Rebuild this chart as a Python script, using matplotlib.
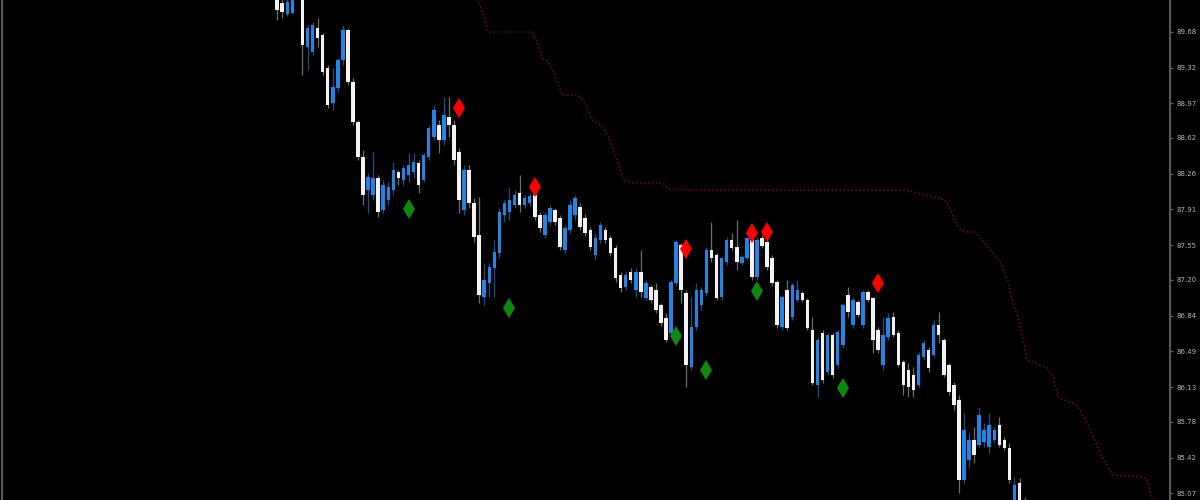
import numpy as np
import matplotlib.pyplot as plt

# bar data (one entry per bar, oldest first)
opens = [90.00, 89.97, 89.86, 89.87, 90.25, 90.08, 89.53, 89.48, 89.72, 89.65,
         89.32, 88.97, 89.12, 89.40, 89.70, 89.18, 88.78, 88.43, 88.10, 88.05,
         88.22, 87.90, 88.00, 88.10, 88.28, 88.20, 88.25, 88.28, 88.37, 88.20,
         88.43, 88.63, 88.75, 88.60, 88.83, 88.75, 88.48, 87.90, 88.30, 87.97,
         87.65, 87.03, 87.17, 87.32, 87.47, 87.85, 87.88, 87.95, 88.07, 87.95,
         87.97, 88.05, 87.85, 87.65, 87.78, 87.90, 87.82, 87.50, 87.70, 87.85,
         87.93, 87.82, 87.70, 87.45, 87.60, 87.70, 87.62, 87.52, 87.25, 87.13,
         87.28, 87.10, 87.28, 87.02, 87.13, 87.10, 86.95, 86.82, 86.67, 87.17,
         87.55, 87.07, 86.33, 86.73, 86.95, 87.07, 87.50, 87.45, 87.03, 87.38,
         87.60, 87.53, 87.37, 87.42, 87.60, 87.23, 87.62, 87.58, 87.42, 87.18,
         86.73, 87.10, 86.83, 87.00, 87.07, 87.00, 86.70, 86.15, 86.67, 86.28,
         86.65, 86.35, 86.55, 87.05, 86.75, 86.98, 86.75, 87.08, 87.02, 86.70,
         86.35, 86.63, 86.83, 86.67, 86.38, 86.30, 86.25, 86.15, 86.43, 86.50,
         86.45, 86.75, 86.60, 86.35, 86.15, 86.00, 85.20, 85.40, 85.60, 85.55,
         85.58, 85.53, 85.60, 85.75, 85.60, 85.52, 85.00, 85.17, 85.00]
highs = [90.05, 90.02, 90.05, 90.08, 90.30, 90.12, 89.75, 89.78, 89.82, 89.67,
         89.35, 89.32, 89.42, 89.75, 89.72, 89.22, 88.80, 88.50, 88.27, 88.48,
         88.25, 88.20, 88.18, 88.38, 88.30, 88.35, 88.47, 88.47, 88.40, 88.47,
         88.75, 88.95, 88.80, 89.03, 89.03, 88.80, 88.52, 88.35, 88.35, 88.02,
         88.03, 87.37, 87.37, 87.60, 87.92, 88.00, 88.13, 88.10, 88.25, 88.05,
         88.07, 88.08, 87.88, 87.88, 87.95, 87.92, 87.85, 87.75, 88.00, 88.05,
         87.97, 87.86, 87.73, 87.67, 87.78, 87.73, 87.65, 87.55, 87.28, 87.28,
         87.32, 87.32, 87.50, 87.20, 87.15, 87.17, 86.97, 86.87, 87.20, 87.60,
         87.57, 87.10, 87.03, 87.17, 87.13, 87.53, 87.78, 87.47, 87.43, 87.63,
         87.67, 87.80, 87.45, 87.63, 87.63, 87.63, 87.65, 87.60, 87.45, 87.20,
         87.05, 87.20, 87.17, 87.20, 87.09, 87.02, 86.83, 86.63, 86.70, 86.67,
         86.67, 86.70, 86.97, 87.13, 87.03, 87.00, 87.10, 87.10, 87.03, 86.73,
         86.83, 86.87, 86.88, 86.70, 86.40, 86.37, 86.33, 86.48, 86.60, 86.53,
         86.80, 86.88, 86.62, 86.37, 86.18, 86.05, 85.87, 85.67, 85.73, 85.93,
         85.77, 85.87, 85.73, 85.83, 85.63, 85.57, 85.23, 85.22, 85.03]
lows = [89.80, 89.82, 89.84, 89.86, 90.04, 89.25, 89.30, 89.45, 89.53, 89.25,
        88.92, 88.90, 89.08, 89.35, 89.15, 88.75, 88.40, 87.95, 87.87, 88.00,
        87.83, 87.87, 87.95, 88.05, 88.15, 88.15, 88.18, 88.22, 88.07, 88.18,
        88.40, 88.60, 88.47, 88.55, 88.63, 88.35, 87.87, 87.85, 87.92, 87.58,
        86.97, 86.95, 87.03, 87.03, 87.42, 87.78, 87.80, 87.92, 87.88, 87.92,
        87.94, 87.80, 87.68, 87.62, 87.75, 87.75, 87.50, 87.47, 87.67, 87.80,
        87.70, 87.64, 87.50, 87.40, 87.57, 87.57, 87.44, 87.18, 87.08, 87.10,
        87.17, 87.03, 87.03, 87.00, 86.97, 86.87, 86.74, 86.58, 86.64, 87.14,
        86.97, 86.13, 86.30, 86.70, 86.90, 87.04, 87.38, 87.00, 87.00, 87.35,
        87.50, 87.30, 87.35, 87.40, 87.20, 87.20, 87.52, 87.30, 87.14, 86.72,
        86.70, 86.70, 86.80, 86.98, 86.98, 86.70, 86.15, 86.03, 86.17, 86.25,
        86.22, 86.32, 86.52, 86.83, 86.72, 86.83, 86.72, 86.98, 86.47, 86.47,
        86.30, 86.60, 86.63, 86.33, 86.05, 86.03, 86.03, 86.13, 86.40, 86.28,
        86.43, 86.57, 86.23, 86.05, 85.90, 85.07, 85.17, 85.33, 85.37, 85.53,
        85.53, 85.47, 85.57, 85.53, 85.50, 85.17, 84.90, 84.85, 84.75]
closes = [89.90, 89.88, 89.98, 90.00, 90.08, 89.55, 89.72, 89.75, 89.62, 89.28,
          88.95, 89.13, 89.40, 89.70, 89.18, 88.78, 88.43, 88.05, 88.23, 88.22,
          87.88, 88.15, 88.13, 88.30, 88.22, 88.32, 88.35, 88.38, 88.15, 88.45,
          88.72, 88.90, 88.60, 88.85, 88.75, 88.40, 88.00, 88.30, 87.97, 87.63,
          87.05, 87.20, 87.33, 87.48, 87.88, 87.97, 88.00, 88.05, 87.95, 88.02,
          88.04, 87.83, 87.72, 87.85, 87.92, 87.78, 87.53, 87.72, 87.95, 88.02,
          87.73, 87.67, 87.53, 87.62, 87.75, 87.60, 87.47, 87.22, 87.12, 87.25,
          87.20, 87.28, 87.08, 87.17, 87.00, 86.90, 86.77, 86.60, 87.18, 87.58,
          87.10, 86.35, 86.73, 87.10, 87.10, 87.50, 87.42, 87.02, 87.42, 87.60,
          87.52, 87.38, 87.43, 87.62, 87.23, 87.60, 87.54, 87.33, 87.17, 86.75,
          87.03, 86.72, 87.15, 87.10, 87.00, 86.72, 86.17, 86.60, 86.20, 86.65,
          86.25, 86.68, 86.95, 86.88, 87.00, 86.85, 87.08, 87.00, 86.60, 86.50,
          86.65, 86.82, 86.65, 86.35, 86.15, 86.13, 86.10, 86.45, 86.57, 86.32,
          86.75, 86.65, 86.25, 86.08, 85.95, 85.20, 85.70, 85.60, 85.45, 85.85,
          85.70, 85.75, 85.70, 85.55, 85.52, 85.20, 85.15, 84.90, 84.80]

# fractal arrows: bar index and price
up_bars = [36, 51, 81, 94, 97, 119]
up_prices = [88.92, 88.13, 87.51, 87.67, 87.68, 87.17]
dn_bars = [26, 46, 79, 85, 95, 112]
dn_prices = [87.91, 86.92, 86.64, 86.30, 87.09, 86.12]

# trailing stop line (dotted, dark red)
stop_bars = [38.2, 39.8, 41.2, 41.8, 50.5, 51.5, 52.5, 53.7, 55.0, 56.4,
             59.6, 61.0, 62.4, 63.4, 64.6, 65.9, 67.3, 68.5, 70.5, 76.4,
             77.4, 82.4, 124.4, 132.3, 133.3, 134.9, 136.2, 138.2, 139.6, 141.2,
             143.2, 144.8, 145.7, 147.1, 148.5, 149.5, 152.5, 153.7, 154.7, 157.6,
             158.6, 160.4, 163.0, 165.5, 171.5, 172.3, 172.9, 173.9]
stop_prices = [90.10, 90.00, 89.80, 89.68, 89.68, 89.58, 89.42, 89.38, 89.25, 89.05,
               89.05, 88.97, 88.80, 88.77, 88.73, 88.60, 88.40, 88.20, 88.17, 88.17,
               88.11, 88.10, 88.10, 88.00, 87.90, 87.72, 87.68, 87.68, 87.60, 87.50,
               87.38, 87.18, 86.97, 86.77, 86.40, 86.38, 86.32, 86.23, 86.02, 85.97,
               85.93, 85.77, 85.47, 85.25, 85.23, 85.20, 85.07, 84.90]

price_ticks = [89.68, 89.32, 88.97, 88.62, 88.26, 87.91, 87.55, 87.20,
               86.84, 86.49, 86.13, 85.78, 85.42, 85.07]

o = np.array(opens)
h = np.array(highs)
l = np.array(lows)
c = np.array(closes)
x = np.arange(len(o))
up = c >= o

fig = plt.figure(figsize=(12, 5), dpi=100, facecolor='black')
ax = fig.add_axes([2 / 1200, 0, 1168 / 1200, 1])
ax.set_facecolor('black')

# wicks
ax.vlines(x[up], l[up], h[up], color='#1d4f88', lw=0.9, zorder=2)
ax.vlines(x[~up], l[~up], h[~up], color='#6e6e6e', lw=0.9, zorder=2)
# bodies
body_lo = np.minimum(o, c)
body_h = np.maximum(np.abs(c - o), 0.03)
ax.bar(x[up], body_h[up], bottom=body_lo[up], width=0.7, color='#2185e6', zorder=3)
ax.bar(x[~up], body_h[~up], bottom=body_lo[~up], width=0.7, color='#f2f2f2', zorder=3)

ax.plot(stop_bars, stop_prices, color='#7e0a0a', lw=1.1, ls=(0, (1, 1.6)), zorder=1)

ax.plot(up_bars, up_prices, ls='none', marker='d', ms=10, color='#ff0000',
        mew=0, zorder=4)
ax.plot(dn_bars, dn_prices, ls='none', marker='d', ms=10, color='#0b8a0b',
        mew=0, zorder=4)

ax.set_xlim(-54.5, 176.8)
ax.set_ylim(85.0, 90.0)

ax.set_xticks([])
ax.yaxis.tick_right()
ax.set_yticks(price_ticks)
ax.set_yticklabels(['%.2f' % v for v in price_ticks])
ax.tick_params(axis='y', colors='#606060', labelcolor='#b4b4bc', labelsize=5,
               length=2, width=1, pad=3)
for s in ['top', 'bottom']:
    ax.spines[s].set_visible(False)
for s in ['left', 'right']:
    ax.spines[s].set_color('#5a5a5a')
    ax.spines[s].set_linewidth(1.5)

fig.savefig('out.png', dpi=100, facecolor='black')
